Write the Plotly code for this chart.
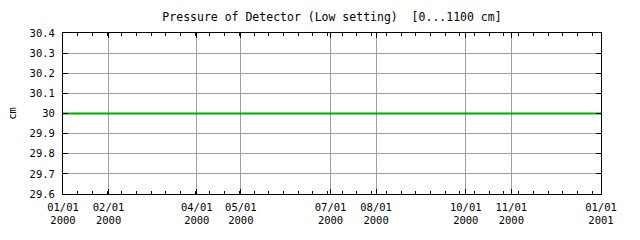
import plotly.graph_objects as go

dates = ["2000-01-01", "2000-02-01", "2000-03-01", "2000-04-01", "2000-05-01", "2000-06-01",
         "2000-07-01", "2000-08-01", "2000-09-01", "2000-10-01", "2000-11-01", "2000-12-01",
         "2001-01-01"]
pressure = [30, 30, 30, 30, 30, 30, 30, 30, 30, 30, 30, 30, 30]

tick_dates = ["2000-01-01", "2000-02-01", "2000-04-01", "2000-05-01", "2000-07-01",
              "2000-08-01", "2000-10-01", "2000-11-01", "2001-01-01"]
tick_labels = ["01/01<br>2000", "02/01<br>2000", "04/01<br>2000", "05/01<br>2000",
               "07/01<br>2000", "08/01<br>2000", "10/01<br>2000", "11/01<br>2000",
               "01/01<br>2001"]
y_ticks = [29.6, 29.7, 29.8, 29.9, 30.0, 30.1, 30.2, 30.3, 30.4]
y_labels = ["29.6", "29.7", "29.8", "29.9", "30", "30.1", "30.2", "30.3", "30.4"]

font = "DejaVu Sans Mono"

fig = go.Figure()
fig.add_trace(go.Scatter(x=dates, y=pressure, mode="lines",
                         line=dict(color="#00aa00", width=2), showlegend=False))

fig.update_layout(
    width=640, height=240,
    margin=dict(l=58, r=39, t=33, b=46),
    paper_bgcolor="white", plot_bgcolor="white",
    title=dict(text="Pressure of Detector (Low setting)  [0...1100 cm]",
               xref="paper", x=0.5, xanchor="center", y=0.93, yanchor="middle",
               font=dict(family=font, size=11.5, color="black")),
    font=dict(family=font, size=10.5, color="black"),
)
fig.update_xaxes(
    range=["2000-01-01", "2001-01-01"],
    tickmode="array", tickvals=tick_dates, ticktext=tick_labels,
    showgrid=True, gridcolor="#a0a0a0", gridwidth=1,
    showline=True, linecolor="black", linewidth=1, mirror="ticks",
    ticks="inside", ticklen=5, tickcolor="black",
    minor=dict(ticks="inside", ticklen=3, tickcolor="black", dtick=10*86400000,
               tick0="2000-01-01", showgrid=False),
    tickfont=dict(family=font, size=10.5),
    ticklabelstandoff=3,
    zeroline=False,
)
fig.update_yaxes(
    range=[29.6, 30.4],
    tickmode="array", tickvals=y_ticks, ticktext=y_labels,
    showgrid=True, gridcolor="#a0a0a0", gridwidth=1,
    showline=True, linecolor="black", linewidth=1, mirror="ticks",
    ticks="inside", ticklen=5, tickcolor="black",
    tickfont=dict(family=font, size=10.5),
    ticklabelstandoff=5,
    title=dict(text="cm", font=dict(family=font, size=10.5), standoff=10),
    zeroline=False,
)

fig.write_html("out.html")
